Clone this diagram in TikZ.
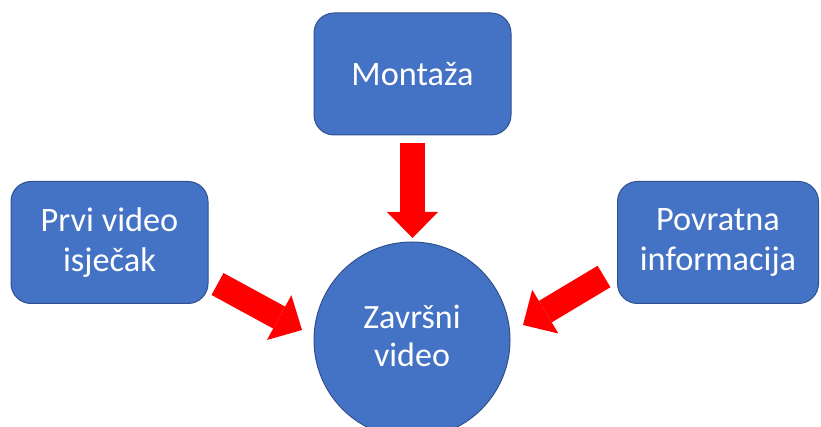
\documentclass[tikz,border=0pt]{standalone}
\usepackage{fontspec}
\setmainfont{Carlito}
\usetikzlibrary{arrows.meta}
\definecolor{boxblue}{HTML}{4472C4}
\definecolor{edgeblue}{HTML}{2F528F}
\definecolor{arrowred}{HTML}{FF0000}
\begin{document}
\begin{tikzpicture}[x=1pt,y=-1pt,
  box/.style={draw=edgeblue, line width=1pt, fill=boxblue, rounded corners=20pt,
    text=white, font=\fontsize{34.3}{40}\selectfont, align=center,
    minimum width=197pt, minimum height=122pt, inner sep=0pt},
  circ/.style={circle, draw=edgeblue, line width=1pt, fill=boxblue,
    text=white, font=\fontsize{34}{38}\selectfont, align=center,
    minimum size=196pt, inner sep=0pt},
  bigarrow/.style={draw=arrowred, line width=25pt,
    -{Triangle[length=26pt,width=51pt,line width=0pt]}}
]
\useasboundingbox (0,0) rectangle (821,427);
\node[box] (mont) at (412.5,74) {Montaža};
\node[box] (prvi) at (109.5,242.5) {Prvi video\\isječak};
\node[box, minimum width=201pt] (povr) at (718,242.5) {Povratna\\informacija};
\node[circ] (fin) at (412,340) {\raisebox{6pt}{\begin{tabular}{@{}c@{}}Završni\\video\end{tabular}}};
\coordinate (dtail) at (412.5,143);
\coordinate (dtip) at (412.5,238);
\coordinate (ltail) at (217.5,284);
\coordinate (ltip) at (302,330);
\coordinate (rtail) at (604,276.5);
\coordinate (rtip) at (523,325);
\draw[bigarrow] (dtail) -- (dtip);
\draw[bigarrow] (ltail) -- (ltip);
\draw[bigarrow] (rtail) -- (rtip);
\end{tikzpicture}
\end{document}
